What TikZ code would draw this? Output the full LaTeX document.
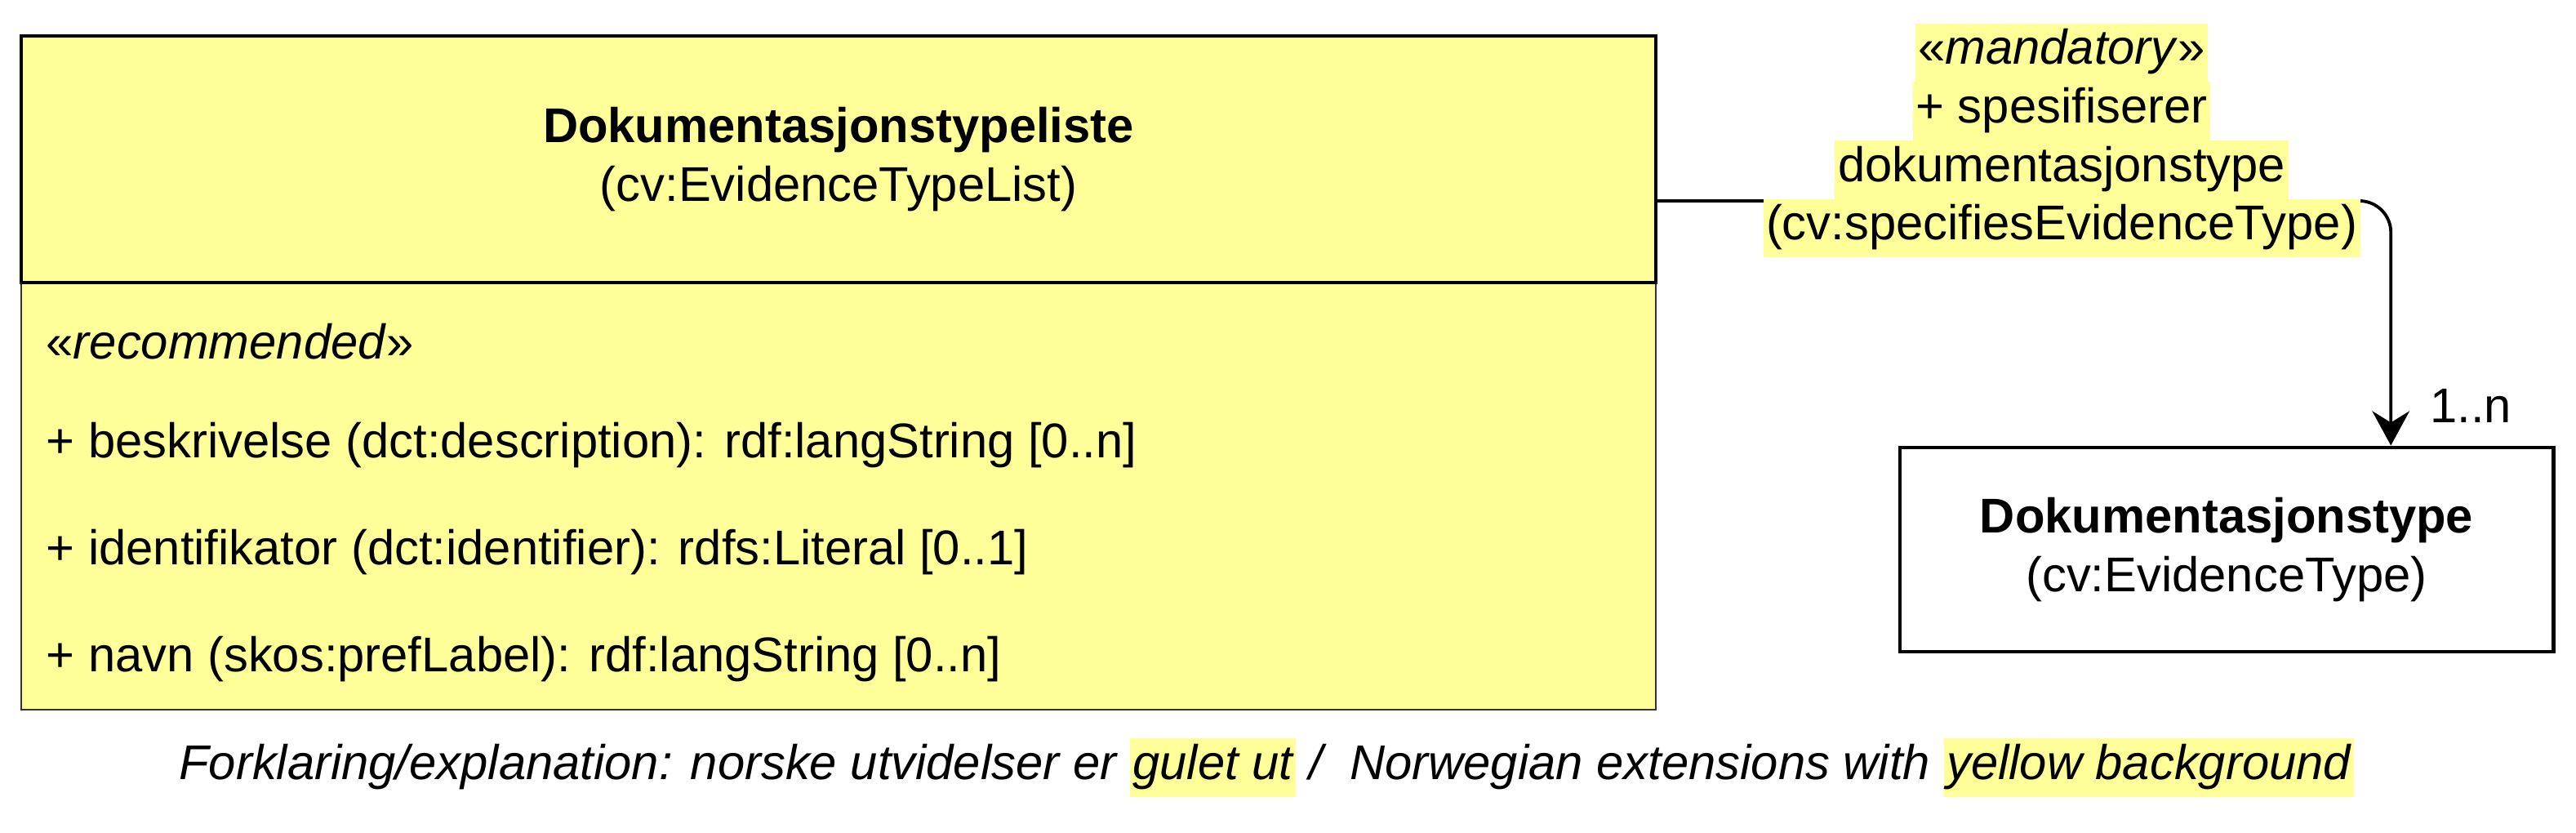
\documentclass[tikz,border=0pt]{standalone}
\usepackage{fontspec}
\setmainfont{Liberation Sans}
\usetikzlibrary{positioning,arrows.meta,calc}
\definecolor{umlYellow}{RGB}{255,255,153}
\newcommand{\gul}[1]{{\setlength{\fboxsep}{0pt}\colorbox{umlYellow}{\strut\kern1pt #1\kern1pt}}}

\begin{document}
\begin{tikzpicture}[font=\fontsize{17}{20.4}\selectfont,
    klasse/.style={draw, fill=umlYellow, inner sep=0pt, outer sep=0pt, align=center},
    attr/.style={anchor=west, inner sep=0pt},
    assoc/.style={-{Stealth[length=12pt, width=13pt, inset=4pt]}, line width=1.1pt, rounded corners=11pt}]
    \useasboundingbox (0,0) rectangle (31.55,-10.20);
    \node[klasse, line width=1.4pt, minimum width=20.02cm, minimum height=3.02cm] (hode) at (10.27,-1.95) {\textbf{Dokumentasjonstypeliste}\\(cv:EvidenceTypeList)};
    \node[klasse, line width=0.5pt, draw=black!80, minimum width=20.02cm, minimum height=5.23cm, below=0pt of hode] (kropp) {};
    \draw[line width=1.4pt] (hode.south west) -- (hode.south east);
    \node[attr] (stereo) at (0.56,-4.18) {«\textit{recommended}»};
    \node[attr] (beskr) at (0.56,-5.45) {+ beskrivelse (dct:description): rdf:langString [0..n]};
    \node[attr] (ident) at (0.56,-6.76) {+ identifikator (dct:identifier): rdfs:Literal [0..1]};
    \node[attr] (navn) at (0.56,-8.07) {+ navn (skos:prefLabel): rdf:langString [0..n]};
    \node[draw, line width=1.4pt, inner sep=0pt, align=center, minimum width=8.0cm, minimum height=2.5cm] (typ) at (27.27,-6.73) {\textbf{Dokumentasjonstype}\\(cv:EvidenceType)};
    \coordinate (fra) at ($(hode.south east)+(0,1.0)$);
    \coordinate (til) at ($(typ.north west)!0.75!(typ.north east)$);
    \draw[assoc] (fra) -| (til);
    \node[inner sep=0pt, align=center] (rolle) at (25.25,-1.72) {\gul{«\textit{mandatory}»}\\\gul{+ spesifiserer}\\\gul{dokumentasjonstype}\\\gul{(cv:specifiesEvidenceType)}};
    \node[inner sep=0pt] (mult) at (30.26,-4.97) {1..n};
    \node[inner sep=0pt] (forklaring) at (15.51,-9.40) {\itshape Forklaring/explanation: norske utvidelser er \gul{gulet ut} /~ Norwegian extensions with \gul{yellow background}};
\end{tikzpicture}
\end{document}
